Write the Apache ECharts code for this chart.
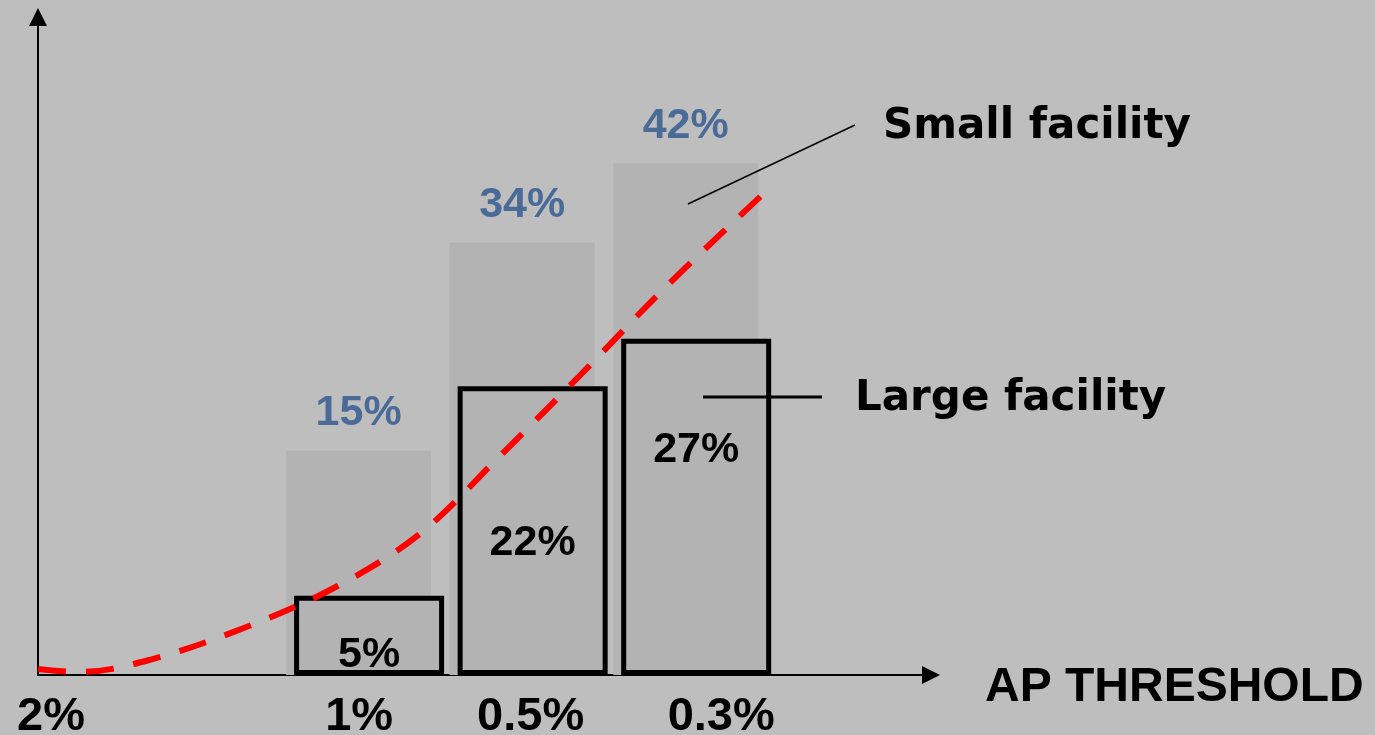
<!DOCTYPE html>
<html>
<head>
<meta charset="utf-8">
<script src="https://cdn.jsdelivr.net/npm/echarts@6/dist/echarts.min.js"></script>
<style>
  html, body { margin: 0; padding: 0; background: #bebebe; }
  #chart { width: 1375px; height: 735px; }
</style>
</head>
<body>
<div id="chart"></div>
<script>
// ---- data ----
const thresholdLabels = ['2%', '', '1%', '0.5%', '0.3%'];   // AP threshold, slot index = x position
const barSlots = [2, 3, 4];                                   // slots holding the bars (1%, 0.5%, 0.3%)
const smallShare = [15, 34, 42];                              // printed value, small facility (%)
const largeShare = [5, 22, 27];                               // printed value, large facility (%)
const smallBarHeight = [18.4, 35.5, 42.0];                    // drawn bar height
const largeBarHeight = [6.5, 23.7, 27.6];                     // drawn bar height
const curveX = [0, 0.257, 0.685, 1.266, 1.817, 2.336, 2.826, 3.315, 3.835, 4.428];
const curveY = [0.5, 0.25, 1.25, 3.9, 7.2, 11.6, 18.0, 24.6, 31.8, 39.4];

// ---- styles ----
const labelNudge = [20, 13, -57];        // vertical nudge of the in-bar labels (px)
const tickShift = [13, 0, -6, 2, 29];    // horizontal nudge of axis labels (px)

const chart = echarts.init(document.getElementById('chart'));
const numFont = '"Liberation Sans", Arial, sans-serif';
const noteFont = '"DejaVu Sans", Verdana, sans-serif';

const rich = {};
tickShift.forEach((s, i) => {
  rich['t' + i] = {
    fontSize: 47, fontWeight: 'bold', fontFamily: numFont, color: '#000',
    padding: s >= 0 ? [0, 0, 0, 2 * s] : [0, 2 * -s, 0, 0]
  };
});

chart.setOption({
  backgroundColor: '#bebebe',
  animation: false,
  grid: { left: 38, right: 444, top: 17, bottom: 60, containLabel: false, outerBoundsMode: 'none' },
  xAxis: {
    type: 'value', min: 0, max: 5.46, interval: 1,
    axisLine: { show: true, lineStyle: { color: '#000', width: 2 },
                symbol: ['none', 'triangle'], symbolSize: [18, 18] },
    axisTick: { show: false },
    splitLine: { show: false },
    axisLabel: {
      margin: 19,
      showMaxLabel: false,
      formatter: v => {
        const i = Math.round(v);
        if (Math.abs(v - i) > 1e-6 || !thresholdLabels[i]) return '';
        return '{t' + i + '|' + thresholdLabels[i] + '}';
      },
      rich: rich
    }
  },
  yAxis: {
    type: 'value', min: 0, max: 54,
    axisLine: { show: true, lineStyle: { color: '#000', width: 2 },
                symbol: ['none', 'triangle'], symbolSize: [18, 18] },
    axisTick: { show: false },
    splitLine: { show: false },
    axisLabel: { show: false }
  },
  series: [
    {
      name: 'Small facility', type: 'bar', barWidth: 145, barGap: '-94.5%', z: 1,
      itemStyle: { color: '#b3b3b3' },
      data: barSlots.map((s, i) => [s, smallBarHeight[i]]),
      label: {
        show: true, position: 'top', distance: 16,
        formatter: p => smallShare[p.dataIndex] + '%',
        fontSize: 43, fontWeight: 'bold', fontFamily: numFont, color: '#4a6a98'
      }
    },
    {
      name: 'Large facility', type: 'bar', barWidth: 150, z: 2,
      itemStyle: { color: '#b3b3b3', borderColor: '#000', borderWidth: 5 },
      data: barSlots.map((s, i) => ({
        value: [s, largeBarHeight[i]],
        label: { offset: [0, labelNudge[i]] }
      })),
      label: {
        show: true, position: 'inside',
        formatter: p => largeShare[p.dataIndex] + '%',
        fontSize: 43, fontWeight: 'bold', fontFamily: numFont, color: '#000'
      }
    },
    {
      type: 'line', smooth: 0.35, symbol: 'none', z: 5,
      lineStyle: { color: '#ff0000', width: 6, type: [28, 20], cap: 'butt' },
      data: curveX.map((x, i) => [x, curveY[i]])
    }
  ],
  graphic: [
    { type: 'line', z: 10, shape: { x1: 688, y1: 204, x2: 855, y2: 125 },
      style: { stroke: '#000', lineWidth: 1.5 } },
    { type: 'line', z: 10, shape: { x1: 703, y1: 397, x2: 822, y2: 397 },
      style: { stroke: '#000', lineWidth: 3 } },
    { type: 'text', z: 10, x: 883, y: 127,
      style: { text: 'Small facility', fill: '#000', verticalAlign: 'middle',
               font: 'bold 42px ' + noteFont } },
    { type: 'text', z: 10, x: 855, y: 399,
      style: { text: 'Large facility', fill: '#000', verticalAlign: 'middle',
               font: 'bold 42px ' + noteFont } },
    { type: 'text', z: 10, x: 985, y: 688,
      style: { text: 'AP THRESHOLD', fill: '#000', verticalAlign: 'middle',
               font: 'bold 48px ' + numFont } }
  ]
});
</script>
</body>
</html>
